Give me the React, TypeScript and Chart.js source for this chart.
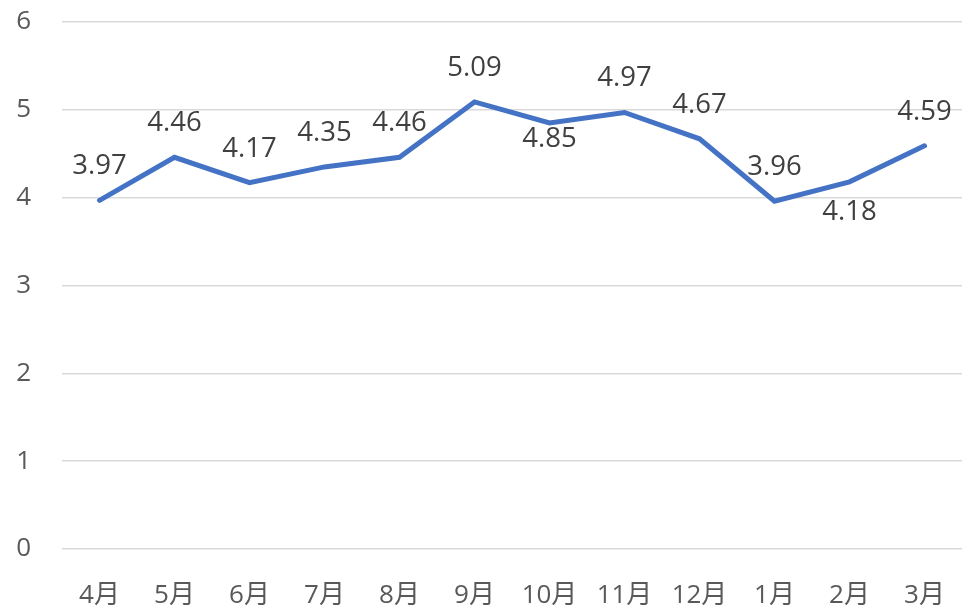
import React, { useEffect, useRef } from "react";
import { Chart, registerables } from "chart.js";

Chart.register(...registerables);

const categories = ["4月", "5月", "6月", "7月", "8月", "9月", "10月", "11月", "12月", "1月", "2月", "3月"];
const values = [3.97, 4.46, 4.17, 4.35, 4.46, 5.09, 4.85, 4.97, 4.67, 3.96, 4.18, 4.59];
const yTicks = [0, 1, 2, 3, 4, 5, 6];

// label placement style (pixel offsets of the label baseline from the point)
const labelOffsets = [-26, -26, -26, -26, -26, -26, 24, -26, -26, -26, 38, -26];

const FONT = "'Open Sans', 'Noto Sans CJK JP', sans-serif";

const dataLabelPlugin = {
  id: "dataLabels",
  afterDatasetsDraw(chart: any) {
    const ctx = chart.ctx;
    const meta = chart.getDatasetMeta(0);
    ctx.save();
    ctx.font = `27.5px ${FONT}`;
    ctx.fillStyle = "#404040";
    ctx.textAlign = "center";
    ctx.textBaseline = "alphabetic";
    meta.data.forEach((pt: any, i: number) => {
      const v = values[i];
      ctx.fillText(v.toFixed(2), pt.x, pt.y + labelOffsets[i]);
    });
    ctx.restore();
  },
};

export default function App() {
  const ref = useRef<HTMLCanvasElement | null>(null);
  useEffect(() => {
    document.body.style.margin = "0";
    if (!ref.current) return;
    const chart = new Chart(ref.current, {
      type: "line",
      data: {
        labels: categories,
        datasets: [
          {
            data: values,
            borderColor: "#4472c4",
            borderWidth: 5,
            borderCapStyle: "round",
            borderJoinStyle: "miter",
            pointRadius: 0,
            pointHoverRadius: 0,
            tension: 0,
            fill: false,
          },
        ],
      },
      options: {
        animation: false,
        responsive: false,
        devicePixelRatio: 1,
        layout: { padding: { top: 22, left: 0, right: 0, bottom: 0 } },
        plugins: {
          legend: { display: false },
          tooltip: { enabled: false },
          title: { display: false },
        },
        scales: {
          x: {
            offset: true,
            grid: { display: false, drawTicks: false },
            border: { display: false },
            ticks: {
              color: "#595959",
              font: { family: FONT, size: 26 },
              padding: 31,
              maxRotation: 0,
              autoSkip: false,
            },
            afterFit: (s: any) => {
              s.height = 62;
              s.paddingLeft = 0;
              s.paddingRight = 0;
            },
          },
          y: {
            min: 0,
            max: 6,
            afterBuildTicks: (s: any) => {
              s.ticks = yTicks.map((v) => ({ value: v }));
            },
            grid: { color: "#d9d9d9", lineWidth: 1.5, drawTicks: false },
            border: { display: false },
            ticks: {
              color: "#595959",
              font: { family: FONT, size: 26 },
              padding: 31,
            },
            afterFit: (s: any) => {
              s.width = 62;
              s.paddingTop = 0;
              s.paddingBottom = 0;
            },
          },
        },
      },
      plugins: [dataLabelPlugin],
    });
    return () => chart.destroy();
  }, []);
  return (
    <div style={{ position: "absolute", left: 0, top: 0, width: 962, height: 611 }}>
      <canvas ref={ref} width={962} height={611} style={{ width: 962, height: 611 }} />
    </div>
  );
}
